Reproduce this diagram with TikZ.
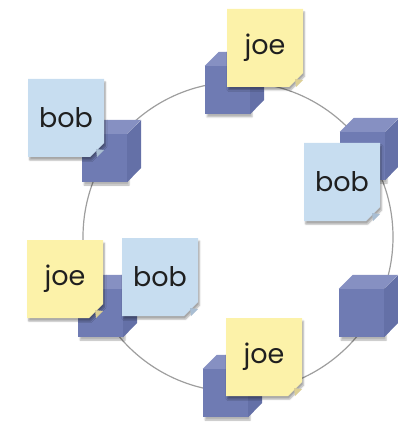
\documentclass[tikz,border=0pt]{standalone}
\usepackage{fontspec}
\newfontfamily\notefont{Poppins}
\usetikzlibrary{shapes.misc,shadows.blur,calc}

\definecolor{joeyellow}{HTML}{FCF2A9}
\definecolor{joefold}{HTML}{DCCF95}
\definecolor{bobblue}{HTML}{C7DDF0}
\definecolor{bobfold}{HTML}{A9BED3}
\definecolor{boxfront}{HTML}{6F7BB3}
\definecolor{boxtop}{HTML}{8690C2}
\definecolor{boxside}{HTML}{6470A7}

\begin{document}
\begin{tikzpicture}[x = 1pt, y = -1pt]
%\draw[very thin, color = gray](0, 0) grid[step = 10] (397, 427);
\useasboundingbox (0, 0) rectangle (397, 427);
\tikzstyle{ring} = [draw, color = black!38, line width = 1.2pt]
\tikzstyle{front} = [rectangle, fill = boxfront, inner sep = 0pt,
  minimum width = 45pt, minimum height = 48pt,
  blur shadow = {shadow xshift = 2pt, shadow yshift = -3pt, shadow opacity = 30}]
\tikzstyle{note} = [chamfered rectangle, chamfered rectangle corners = south east,
  chamfered rectangle xsep = 7pt, chamfered rectangle ysep = 7pt,
  minimum width = 76pt, minimum height = 78pt, inner sep = 0pt,
  font = \notefont\fontsize{27}{27}\selectfont, text = black!88,
  blur shadow = {shadow xshift = 1.5pt, shadow yshift = -3pt, shadow opacity = 35}]
\tikzstyle{joe} = [note, fill = joeyellow]
\tikzstyle{bob} = [note, fill = bobblue]

% the ring everything sits on
\coordinate (hub) at (238, 237);
\path [ring] (hub) circle [radius = 155];

% the boxes on the ring
\foreach \x/\y/\name in {227.5/90/boxtop, 104.5/158/boxleft, 362.5/156/boxright,
    100.5/313/boxlow, 361.5/313/boxlowright, 225.5/393/boxbottom} {
  \node [front] at (\x, \y) (\name) {};
  \fill [boxtop] (\name.north west) -- ++(14, -14) -- ++(45, 0)
    -- (\name.north east) -- cycle;
  \fill [boxside] (\name.north east) -- ++(14, -14) -- ++(0, 48)
    -- (\name.south east) -- cycle;
}

% sticky notes
\node [joe] at (265, 48) (joetop) {joe};
\node [bob] at (66, 118) (bobleft) {bob};
\node [bob] at (342, 182) (bobright) {bob};
\node [joe] at (65, 279) (joelow) {joe};
\node [bob] at (160, 277) (boblow) {bob};
\node [joe] at (264, 357) (joebottom) {joe};

% curled corners
\foreach \name/\fold in {joetop/joefold, bobleft/bobfold, bobright/bobfold,
    joelow/joefold, boblow/bobfold, joebottom/joefold} {
  \fill [\fold] ($(\name.center) + (31, 39)$) -- ($(\name.center) + (38, 32)$)
    -- ($(\name.center) + (30, 31)$) -- cycle;
}
\end{tikzpicture}
\end{document}
